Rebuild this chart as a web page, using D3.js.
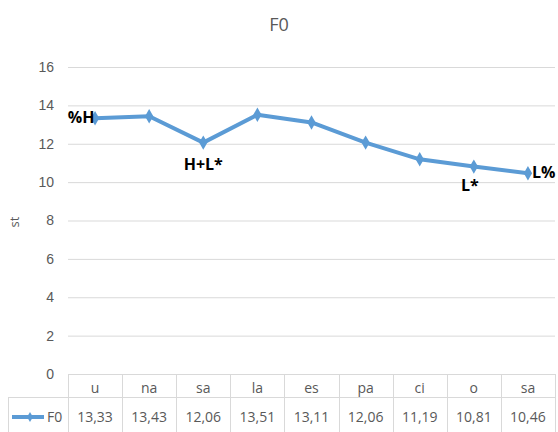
<!DOCTYPE html>
<html>
<head>
<meta charset="utf-8">
<script src="https://cdn.jsdelivr.net/npm/d3@7"></script>
<style>
  body { margin: 0; background: #fff; }
  svg { font-family: "Liberation Sans Narrow", "Open Sans", sans-serif; }
</style>
</head>
<body>
<svg id="chart" width="558" height="432"></svg>
<script>
// data
let syllables = ["u", "na", "sa", "la", "es", "pa", "ci", "o", "sa"];
let f0 = [13.33, 13.43, 12.06, 13.51, 13.11, 12.06, 11.19, 10.81, 10.46];
let yTicks = [0, 2, 4, 6, 8, 10, 12, 14, 16];
let tones = [
  {i: 0, label: "%H"},
  {i: 2, label: "H+L*"},
  {i: 7, label: "L*"},
  {i: 8, label: "L%"}
];

let svg = d3.select("#chart");
let plotLeft = 68, plotRight = 555, plotTop = 67, plotBottom = 374;
let blue = "#5b9bd5", grey = "#595959", gridCol = "#d9d9d9";

let x = d3.scaleBand().domain(d3.range(syllables.length)).range([plotLeft, plotRight]);
let y = d3.scaleLinear().domain([0, 16]).range([plotBottom, plotTop]);

// title
svg.append("text").attr("x", 279).attr("y", 31).attr("text-anchor", "middle")
  .attr("font-size", 18).attr("fill", grey).text("F0");

// y axis title
svg.append("text").attr("transform", "translate(19,222) rotate(-90)")
  .attr("text-anchor", "middle").attr("font-size", 13).attr("fill", grey).text("st");

// grid + y labels
let yAxis = svg.append("g").attr("transform", `translate(${plotLeft},0)`)
  .call(d3.axisLeft(y).tickValues(yTicks).tickSize(-(plotRight - plotLeft)).tickPadding(14));
yAxis.select(".domain").remove();
yAxis.selectAll(".tick line").attr("stroke", gridCol).attr("stroke-width", 1);
yAxis.selectAll(".tick text").attr("font-size", 14).attr("fill", grey)
  .attr("font-family", "Liberation Sans Narrow, sans-serif");

// data table
let row1 = plotBottom, row2 = 397, row3 = 432;
let tbl = svg.append("g").attr("stroke", gridCol).attr("stroke-width", 1).attr("fill", "none");
tbl.append("line").attr("x1", plotLeft).attr("x2", plotRight).attr("y1", row1 + 0.5).attr("y2", row1 + 0.5);
tbl.append("line").attr("x1", 8).attr("x2", plotRight).attr("y1", row2 + 0.5).attr("y2", row2 + 0.5);
tbl.append("line").attr("x1", 8.5).attr("x2", 8.5).attr("y1", row2).attr("y2", row3);
tbl.selectAll(".vl").data(d3.range(syllables.length + 1)).join("line")
  .attr("x1", i => Math.round(plotLeft + i * x.bandwidth()) + 0.5)
  .attr("x2", i => Math.round(plotLeft + i * x.bandwidth()) + 0.5)
  .attr("y1", row1).attr("y2", row3);

svg.selectAll(".cat").data(syllables).join("text")
  .attr("x", (d, i) => x(i) + x.bandwidth() / 2).attr("y", 393)
  .attr("text-anchor", "middle").attr("font-size", 14).attr("fill", grey).text(d => d);
svg.selectAll(".val").data(f0).join("text")
  .attr("x", (d, i) => x(i) + x.bandwidth() / 2).attr("y", 422)
  .attr("text-anchor", "middle").attr("font-size", 14).attr("fill", grey)
  .text(d => d.toFixed(2).replace(".", ","));

// legend key in table
svg.append("line").attr("x1", 12).attr("x2", 44).attr("y1", 417).attr("y2", 417)
  .attr("stroke", blue).attr("stroke-width", 4);
svg.append("path").attr("d", d3.symbol(d3.symbolDiamond, 30)())
  .attr("transform", "translate(30,417)").attr("fill", blue);
svg.append("text").attr("x", 47).attr("y", 422).attr("font-size", 14).attr("fill", grey).text("F0");

// series
let line = d3.line().x((d, i) => x(i) + x.bandwidth() / 2).y(d => y(d));
svg.append("path").datum(f0).attr("d", line).attr("fill", "none")
  .attr("stroke", blue).attr("stroke-width", 4).attr("stroke-linejoin", "round");
svg.selectAll(".mk").data(f0).join("path")
  .attr("d", d3.symbol(d3.symbolDiamond, 60)())
  .attr("transform", (d, i) => `translate(${x(i) + x.bandwidth() / 2},${y(d)})`)
  .attr("fill", blue);

// tone labels
let offsets = {"%H": [-14, 5, "middle"], "H+L*": [0, 27, "middle"], "L*": [-4, 24, "middle"], "L%": [4, 5, "start"]};
svg.selectAll(".tone").data(tones).join("text")
  .attr("x", d => x(d.i) + x.bandwidth() / 2 + offsets[d.label][0])
  .attr("y", d => y(f0[d.i]) + offsets[d.label][1])
  .attr("text-anchor", d => offsets[d.label][2])
  .attr("font-size", 16).attr("font-weight", "bold").attr("fill", "#000")
  .text(d => d.label);
</script>
</body>
</html>
